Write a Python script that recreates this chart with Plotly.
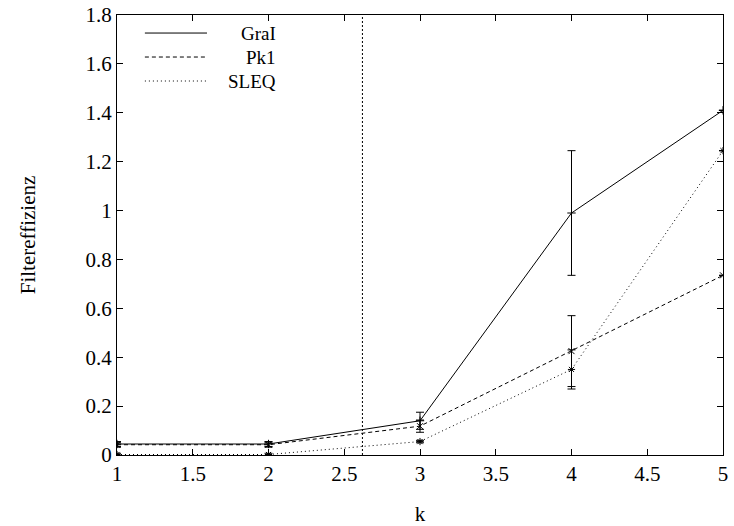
import plotly.graph_objects as go

k = [1, 2, 3, 4, 5]
grai = [0.045, 0.045, 0.14, 0.99, 1.41]
grai_err_plus = [0.01, 0.01, 0.035, 0.255, 0.0]
grai_err_minus = [0.01, 0.01, 0.035, 0.255, 0.0]
pk1 = [0.042, 0.042, 0.118, 0.425, 0.735]
pk1_err_plus = [0.01, 0.01, 0.025, 0.145, 0.0]
pk1_err_minus = [0.01, 0.01, 0.025, 0.145, 0.0]
sleq = [0.002, 0.002, 0.055, 0.35, 1.245]
sleq_err_plus = [0.005, 0.005, 0.005, 0.08, 0.0]
sleq_err_minus = [0.005, 0.005, 0.005, 0.08, 0.0]
vline_k = 2.62

series_names = ["GraI", "Pk1", "SLEQ"]
xticks = [1, 1.5, 2, 2.5, 3, 3.5, 4, 4.5, 5]
yticks = [0, 0.2, 0.4, 0.6, 0.8, 1, 1.2, 1.4, 1.6, 1.8]

font = "Liberation Serif"
fs = 21
fig = go.Figure()

dashes = ["solid", "4px,3px", "1px,3px"]
symbols = ["cross-thin-open", "x-thin-open", "asterisk-open"]
ys = [grai, pk1, sleq]
eps = [grai_err_plus, pk1_err_plus, sleq_err_plus]
ems = [grai_err_minus, pk1_err_minus, sleq_err_minus]

for name, y, ep, em, dash, sym in zip(series_names, ys, eps, ems, dashes, symbols):
    fig.add_trace(go.Scatter(
        x=k, y=y, name=name, mode="lines+markers", showlegend=False,
        line=dict(color="black", width=1, dash=dash),
        marker=dict(symbol=sym, size=6, color="black", line=dict(width=1, color="black")),
        error_y=dict(type="data", array=ep, arrayminus=em, symmetric=False,
                     color="black", thickness=1, width=4),
    ))

fig.add_shape(type="line", x0=vline_k, x1=vline_k, y0=0, y1=1.8, xref="x", yref="y",
              line=dict(color="black", width=1, dash="2px,2px"))

# manual legend (gnuplot style: sample line, right-aligned text)
leg_y = [0.959, 0.9045, 0.85]
for name, dash, yy in zip(series_names, dashes, leg_y):
    fig.add_shape(type="line", xref="paper", yref="paper", x0=0.046, x1=0.1485, y0=yy, y1=yy,
                  line=dict(color="black", width=1, dash=dash))
    fig.add_annotation(xref="paper", yref="paper", x=0.264, y=yy, text=name, showarrow=False,
                       xanchor="right", yanchor="middle", borderpad=0,
                       font=dict(family=font, size=19, color="black"))

axis_common = dict(showline=True, linecolor="black", linewidth=1, mirror="allticks",
                   ticks="inside", ticklen=6, tickcolor="black", showgrid=False,
                   zeroline=False, automargin=False,
                   tickfont=dict(family=font, size=fs, color="black"))
fig.update_xaxes(range=[1, 5], tickvals=xticks,
                 title=dict(text="k", font=dict(family=font, size=fs, color="black"), standoff=22),
                 **axis_common)
fig.update_yaxes(range=[0, 1.8], tickvals=yticks,
                 title=dict(text="Filtereffizienz", font=dict(family=font, size=fs, color="black"), standoff=44),
                 **axis_common)

fig.update_layout(
    width=734, height=526,
    margin=dict(l=117, r=11, t=15, b=71),
    plot_bgcolor="white", paper_bgcolor="white",
    font=dict(family=font, size=fs, color="black"),
    showlegend=False,
)

fig.write_html("out.html")
